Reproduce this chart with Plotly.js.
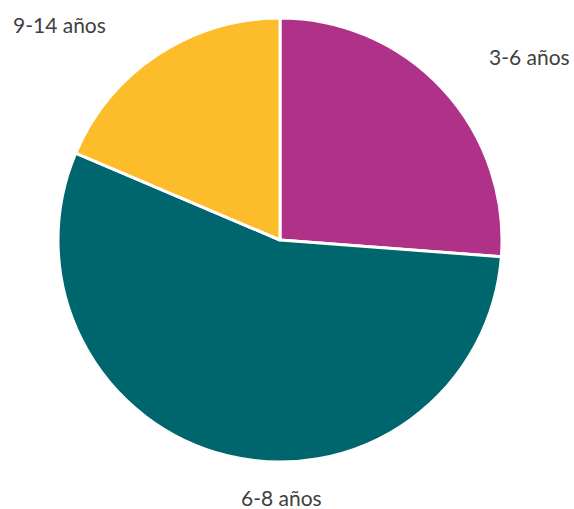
<!DOCTYPE html>
<html>
<head>
<meta charset="utf-8">
<script src="https://cdn.plot.ly/plotly-3.0.1.min.js"></script>
<style>html,body{margin:0;padding:0;background:#fff;}#chart{width:574px;height:509px;}</style>
</head>
<body>
<div id="chart"></div>
<script>
const categories = ["3-6 años", "6-8 años", "9-14 años"];
const values = [26.2, 55.2, 18.6];
const colors = ["#B03288", "#00666E", "#FDBD2A"];
// label anchor positions (page pixels) for each category
const labelPos = [[529, 57], [281, 497], [59, 25]];

const W = 574, H = 509;
const annotations = categories.map((c, i) => ({
  text: c,
  xref: "paper", yref: "paper",
  x: labelPos[i][0] / W, y: 1 - labelPos[i][1] / H,
  xanchor: "center", yanchor: "middle",
  showarrow: false,
  font: {family: "Lato, 'Open Sans', sans-serif", size: 21, color: "#404040"}
}));

Plotly.newPlot("chart", [{
  type: "pie",
  labels: categories,
  values: values,
  sort: false,
  direction: "clockwise",
  rotation: 0,
  marker: {colors: colors, line: {color: "#ffffff", width: 3}},
  textinfo: "none",
  hoverinfo: "none",
  showlegend: false,
  domain: {x: [58/W, 502/W], y: [1 - 462/H, 1 - 18/H]}
}], {
  width: W, height: H,
  margin: {l: 0, r: 0, t: 0, b: 0},
  paper_bgcolor: "#ffffff",
  showlegend: false,
  annotations: annotations
}, {displayModeBar: false, staticPlot: true});
</script>
</body>
</html>
